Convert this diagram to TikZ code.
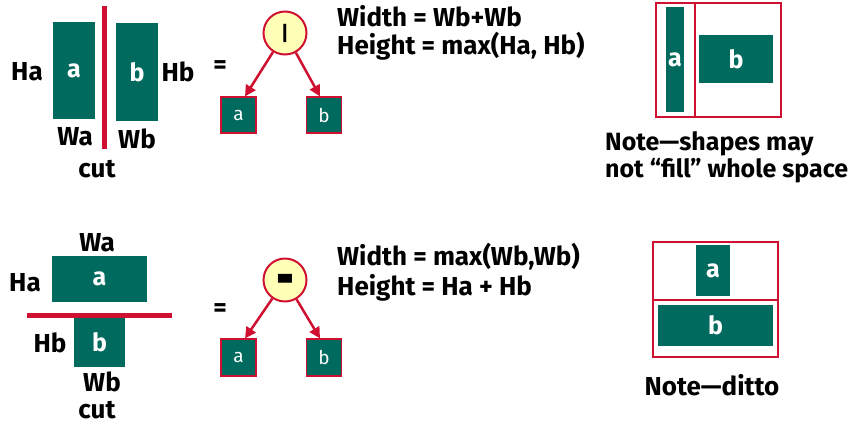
\documentclass[tikz,border=0pt]{standalone}
\usepackage{fontspec}
\setmainfont{Fira Sans}
\usetikzlibrary{arrows.meta}
\definecolor{boxgreen}{RGB}{0,106,94}
\definecolor{cutred}{RGB}{208,16,48}
\definecolor{opfill}{RGB}{255,255,184}
\begin{document}
\begin{tikzpicture}[x=1pt,y=-1pt,
  blk/.style={fill=boxgreen, draw=none, inner sep=0, text=white, font=\bfseries\fontsize{25}{29}\selectfont},
  lbl/.style={font=\bfseries\fontsize{26}{30}\selectfont, inner sep=0},
  notetxt/.style={font=\bfseries\fontsize{25}{29}\selectfont, inner sep=0},
  leaf/.style={fill=boxgreen, draw=cutred, line width=1.2, minimum width=35, minimum height=36, text=white, font=\fontsize{19}{22}\selectfont, inner sep=0},
  opnode/.style={circle, fill=opfill, draw=cutred, line width=2, minimum size=43, inner sep=0, font=\bfseries\fontsize{22}{22}\selectfont},
  cutline/.style={draw=cutred, line width=5},
  arr/.style={draw=cutred, line width=2.5, -{Triangle[length=11,width=11]}},
  frame/.style={draw=cutred, line width=1.3}]
\useasboundingbox (0,0) rectangle (848,426);

% ---------- top: vertical cut ----------
\node[blk, minimum width=42, minimum height=97] (A1) at (74,70.5) {a};
\node[blk, minimum width=42, minimum height=98] (B1) at (137,72) {b};
\coordinate (c1t) at (104,6);
\coordinate (c1b) at (104,149);
\draw[cutline] (c1t) -- (c1b);
\node[lbl] (ha1) at (27,72) {Ha};
\node[lbl] (hb1) at (178,72) {Hb};
\node[lbl] (wa1) at (75,137) {Wa};
\node[lbl] (wb1) at (137,139) {Wb};
\node[lbl] (cut1) at (97,169) {cut};
\node[lbl] (eq1) at (220,67) {=};

\node[opnode] (op1) at (285,33) {\fontsize{20}{20}\selectfont |};
\node[leaf] (la1) at (238.5,115) {a};
\node[leaf] (lb1) at (324,115) {b};
\draw[arr] (op1) -- ([xshift=6.5]la1.north);
\draw[arr] (op1) -- ([xshift=-4]lb1.north);

\node[lbl, anchor=base west] (w1) at (337,26) {Width = Wb+Wb};
\node[lbl, anchor=base west] (h1) at (337,54) {Height = max(Ha, Hb)};

\coordinate (f1a) at (656,3);
\coordinate (f1b) at (781,117);
\draw[frame] (f1a) rectangle (f1b);
\coordinate (d1t) at (695,3);
\coordinate (d1b) at (695,117);
\draw[frame] (d1t) -- (d1b);
\node[blk, minimum width=18, minimum height=105] (na1) at (675,59.5) {a};
\node[blk, minimum width=74, minimum height=48] (nb1) at (736,59) {b};
\node[notetxt, anchor=base west] (n1) at (605,150) {Note—shapes may};
\node[notetxt, anchor=base west] (n2) at (605,177) {not “fill” whole space};

% ---------- bottom: horizontal cut ----------
\node[lbl] (wa2) at (97,243) {Wa};
\node[blk, minimum width=95, minimum height=46] (A2) at (99.5,279) {a};
\coordinate (c2l) at (27,315);
\coordinate (c2r) at (172,315);
\draw[cutline] (c2l) -- (c2r);
\node[blk, minimum width=51, minimum height=49] (B2) at (99.5,342.5) {b};
\node[lbl] (ha2) at (25,283) {Ha};
\node[lbl] (hb2) at (50,343) {Hb};
\node[lbl] (wb2) at (102,382) {Wb};
\node[lbl] (cut2) at (97,410) {cut};
\node[lbl] (eq2) at (220,310) {=};

\node[opnode] (op2) at (285,280) {\raisebox{-21pt}[0pt][0pt]{\scalebox{2}[3.3]{-}}};
\node[leaf, minimum height=37] (la2) at (238.5,357.5) {a};
\node[leaf, minimum height=37] (lb2) at (324,357.5) {b};
\draw[arr] (op2) -- ([xshift=6.5]la2.north);
\draw[arr] (op2) -- ([xshift=-4]lb2.north);

\node[lbl, anchor=base west] (w2) at (337,265) {Width = max(Wb,Wb)};
\node[lbl, anchor=base west] (h2) at (337,295) {Height = Ha + Hb};

\coordinate (f2a) at (653,242);
\coordinate (f2b) at (778,357);
\draw[frame] (f2a) rectangle (f2b);
\coordinate (d2l) at (653,300);
\coordinate (d2r) at (778,300);
\draw[frame] (d2l) -- (d2r);
\node[blk, minimum width=34, minimum height=51] (na2) at (713,270.5) {a};
\node[blk, minimum width=115, minimum height=41] (nb2) at (715.5,325.5) {b};
\node[lbl] (n3) at (712,385) {Note—ditto};
\end{tikzpicture}
\end{document}
